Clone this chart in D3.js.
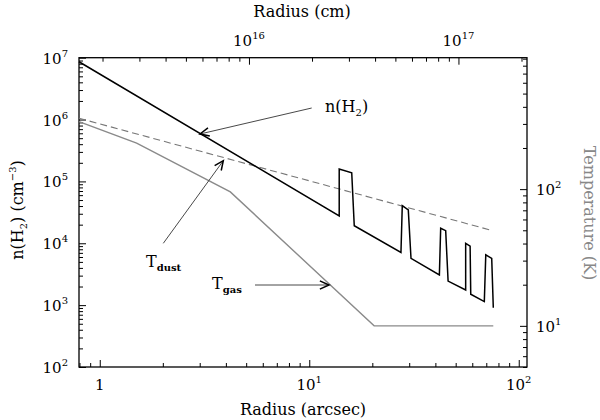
<!DOCTYPE html>
<html><head><meta charset="utf-8">
<script src="https://cdn.jsdelivr.net/npm/d3@7"></script>
<style>body{margin:0;background:#fff} svg text{font-family:"DejaVu Serif",serif;fill:#000}</style>
</head><body><svg id="c" width="600" height="420"></svg>
<script>
// ---- data ----
const nRadius  = [0.796, 13.9, 13.9, 15.95, 16.4, 27.4, 27.8, 29.7, 30.6, 41.8, 42.4, 44.8, 46.0, 55.8, 55.8, 58.6, 59.0, 68.5, 69.6, 74.3, 75.6];
const nDensity = [8.6e6, 2.76e4, 1.59e5, 1.38e5, 1.92e4, 7.1e3, 4.05e4, 3.45e4, 5.7e3, 3.07e3, 1.75e4, 1.6e4, 2.45e3, 1.76e3, 1.0e4, 9.0e3, 1.5e3, 1.14e3, 6.5e3, 5.7e3, 910];
const dustRadius = [0.796, 74];
const dustTemp   = [330, 50];
const gasRadius  = [0.796, 1.5, 4.2, 20.4, 75.6];
const gasTemp    = [312, 217, 95.5, 10, 10];

const bottomMajor = [1, 10, 100];
const bottomLabels = ["1", "10^1", "10^2"];
const topMajor = [1e16, 1e17];
const topLabels = ["10^16", "10^17"];
const leftMajor = [1e2, 1e3, 1e4, 1e5, 1e6, 1e7];
const leftLabels = ["10^2", "10^3", "10^4", "10^5", "10^6", "10^7"];
const rightMajor = [10, 100];
const rightLabels = ["10^1", "10^2"];
const cmPerArcsec = 1.94e15;

// ---- layout ----
const svg = d3.select("#c");
const L = 79, R = 527, T = 57.7, B = 367;
const x = d3.scaleLog().domain([0.796, 109.5]).range([L, R]);
const y = d3.scaleLog().domain([100, 1e7]).range([B, T]);
const yT = d3.scaleLog().domain([5, 915]).range([B, T]);
const xcm = d3.scaleLog().domain([0.796 * cmPerArcsec, 109.5 * cmPerArcsec]).range([L, R]);

function minors(lo, hi) {
  const out = [];
  for (let e = Math.floor(Math.log10(lo)) - 1; e <= Math.ceil(Math.log10(hi)); e++) {
    for (let m = 2; m <= 9; m++) { const v = m * Math.pow(10, e); if (v >= lo && v <= hi) out.push(v); }
  }
  return out;
}
function drawAxis(axisFn, scale, transform, major, minorVals) {
  svg.append("g").attr("transform", transform)
    .call(axisFn(scale).tickValues(major).tickSizeInner(-7).tickSizeOuter(0).tickFormat(""))
    .call(g => g.select(".domain").remove());
  svg.append("g").attr("transform", transform)
    .call(axisFn(scale).tickValues(minorVals).tickSizeInner(-4).tickSizeOuter(0).tickFormat(""))
    .call(g => g.select(".domain").remove());
}
drawAxis(d3.axisBottom, x, `translate(0,${B})`, bottomMajor, minors(0.8, 109));
drawAxis(d3.axisTop, xcm, `translate(0,${T})`, topMajor, minors(xcm.domain()[0], xcm.domain()[1]));
drawAxis(d3.axisLeft, y, `translate(${L},0)`, leftMajor, minors(100, 1e7));
drawAxis(d3.axisRight, yT, `translate(${R},0)`, rightMajor, minors(5, 915));
svg.selectAll(".tick line").attr("stroke", "#000").attr("stroke-width", 1);

svg.append("rect").attr("x", L).attr("y", T).attr("width", R - L).attr("height", B - T)
  .attr("fill", "none").attr("stroke", "#000").attr("stroke-width", 1.3);

function label(px, py, str, anchor, size) {
  const [b, e] = str.split("^");
  const t = svg.append("text").attr("x", px).attr("y", py).attr("text-anchor", anchor).attr("font-size", size || 15);
  t.append("tspan").text(b);
  if (e) t.append("tspan").attr("dy", -7).attr("font-size", 10).text(e);
  return t;
}
bottomMajor.forEach((v, i) => label(x(v), 389.5, bottomLabels[i], "middle"));
topMajor.forEach((v, i) => label(xcm(v), 46, topLabels[i], "middle"));
leftMajor.forEach((v, i) => label(68, y(v) + 6, leftLabels[i], "end"));
rightMajor.forEach((v, i) => label(536, yT(v) + 6, rightLabels[i], "start"));

// axis titles
svg.append("text").attr("x", 303).attr("y", 415).attr("text-anchor", "middle").attr("font-size", 16).text("Radius (arcsec)");
svg.append("text").attr("x", 302).attr("y", 17).attr("text-anchor", "middle").attr("font-size", 16).text("Radius (cm)");
const lt = svg.append("text").attr("transform", "translate(23,210) rotate(-90)").attr("text-anchor", "middle").attr("font-size", 16);
lt.append("tspan").text("n(H");
lt.append("tspan").attr("dy", 4).attr("font-size", 10).text("2");
lt.append("tspan").attr("dy", -4).text(")  (cm");
lt.append("tspan").attr("dy", -7).attr("font-size", 10).text("−3");
lt.append("tspan").attr("dy", 7).text(")");
svg.append("text").attr("transform", "translate(584,213) rotate(90)").attr("text-anchor", "middle")
  .attr("font-size", 16).style("fill", "#888").text("Temperature  (K)");

// ---- data lines ----
const lineN = d3.line().x(i => x(nRadius[i])).y(i => y(nDensity[i]));
const lineD = d3.line().x(i => x(dustRadius[i])).y(i => yT(dustTemp[i]));
const lineG = d3.line().x(i => x(gasRadius[i])).y(i => yT(gasTemp[i]));
svg.append("path").attr("d", lineD(d3.range(dustRadius.length))).attr("fill", "none")
  .attr("stroke", "#777").attr("stroke-width", 1.1).attr("stroke-dasharray", "7,4");
svg.append("path").attr("d", lineG(d3.range(gasRadius.length))).attr("fill", "none")
  .attr("stroke", "#8a8a8a").attr("stroke-width", 1.4);
svg.append("path").attr("d", lineN(d3.range(nRadius.length))).attr("fill", "none")
  .attr("stroke", "#000").attr("stroke-width", 1.5).attr("stroke-linejoin", "miter");

// ---- annotations ----
function arrow(x1, y1, x2, y2) {
  svg.append("line").attr("x1", x1).attr("y1", y1).attr("x2", x2).attr("y2", y2)
    .attr("stroke", "#333").attr("stroke-width", 0.9);
  const a = Math.atan2(y1 - y2, x1 - x2), len = 10, sp = 0.42;
  const p = [[x2 + len * Math.cos(a + sp), y2 + len * Math.sin(a + sp)], [x2, y2], [x2 + len * Math.cos(a - sp), y2 + len * Math.sin(a - sp)]];
  svg.append("path").attr("d", d3.line()(p)).attr("fill", "none").attr("stroke", "#000").attr("stroke-width", 1.5);
}
arrow(311.7, 108, 200, 134);
arrow(163.3, 243.3, 223.3, 160.7);
arrow(255, 285, 329, 285);

const tn = svg.append("text").attr("x", 325).attr("y", 112).attr("font-size", 16);
tn.append("tspan").text("n(H");
tn.append("tspan").attr("dy", 4).attr("font-size", 10).text("2");
tn.append("tspan").attr("dy", -4).text(")");
const td = svg.append("text").attr("x", 146).attr("y", 266.5).attr("font-size", 16);
td.append("tspan").text("T");
td.append("tspan").attr("dy", 4).attr("font-size", 10).attr("font-weight", "bold").text("dust");
const tg = svg.append("text").attr("x", 212).attr("y", 288.5).attr("font-size", 16);
tg.append("tspan").text("T");
tg.append("tspan").attr("dy", 4).attr("font-size", 10).attr("font-weight", "bold").text("gas");
</script></body></html>
